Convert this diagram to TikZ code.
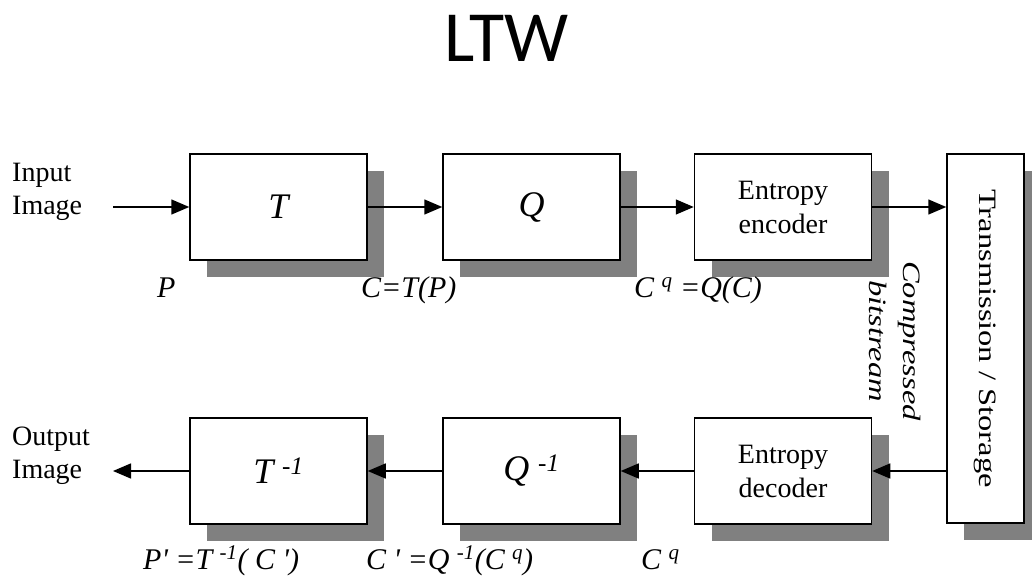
\documentclass[tikz,border=0pt]{standalone}
\usepackage{fontspec}
\setmainfont{Liberation Serif}
\newfontfamily\titlefont{Carlito}
\usetikzlibrary{arrows.meta,shadows}
\definecolor{shgray}{HTML}{808080}
\newcommand{\supr}[1]{\textsuperscript{\hspace{0.35em}#1}}
\begin{document}
\begin{tikzpicture}[x=1pt,y=-1pt,
  blk/.style={draw, line width=1.5pt, fill=white, minimum width=177pt, minimum height=106pt, inner sep=0pt,
    drop shadow={shadow xshift=17pt, shadow yshift=-17pt, fill=shgray, opacity=1, draw=none}},
  conn/.style={line width=1.5pt, -{Triangle[length=18pt,width=15pt]}},
  lbl/.style={font=\fontsize{30}{32}\selectfont\itshape, inner sep=0pt, anchor=base west},
  sym/.style={font=\fontsize{36}{38}\selectfont\itshape},
  wrd/.style={font=\fontsize{28}{34}\selectfont, align=center},
  side/.style={font=\fontsize{28}{33}\selectfont, align=left, inner sep=0pt, anchor=west},
]
\useasboundingbox (0,0) rectangle (1032,575);
\node[font=\fontsize{72}{74}\selectfont\titlefont, anchor=base, inner sep=0pt] (title) at (507,62) {LTW};

% top row
\node[blk, sym] (T) at (278.5,207) {T};
\node[blk, sym] (Q) at (531.5,207) {Q};
\node[blk, wrd] (E) at (783,207) {Entropy\\encoder};
\node[blk, minimum width=77pt, minimum height=369pt, font=\fontsize{25}{30}\selectfont] (TS) at (985.5,338.5)
  {\rotatebox{-90}{\scalebox{1.3}[1]{Transmission / Storage}}};

% bottom row
\node[blk, sym] (Ti) at (278.5,471) {T\supr{-\textit{1}}};
\node[blk, sym] (Qi) at (531.5,471) {Q\supr{-\textit{1}}};
\node[blk, wrd] (D) at (783,471) {Entropy\\decoder};

% side labels
\node[side] (in) at (12,192) {Input\\Image};
\node[side] (out) at (12,456) {Output\\Image};
\coordinate (inp) at (113,207);
\coordinate (outp) at (113,471);

% connectors
\draw[conn] (inp) -- (T.west);
\draw[conn] (T.east) -- (Q.west);
\draw[conn] (Q.east) -- (E.west);
\draw[conn] (E.east) -- (E.east -| TS.west);
\draw[conn] (TS.west |- D.east) -- (D.east);
\draw[conn] (D.west) -- (Qi.east);
\draw[conn] (Qi.west) -- (Ti.east);
\draw[conn] (Ti.west) -- (outp);

% signal labels
\node[lbl] (lP) at (157,297) {P};
\node[lbl] (lC) at (361,297) {C=T(P)};
\node[lbl] (lCq) at (634,297) {C\supr{q} =Q(C)};
\node[lbl] (lPp) at (143,569) {P\textquotesingle{} =T\supr{-1}( C \textquotesingle{})};
\node[lbl] (lCp) at (366,569) {C \textquotesingle{} =Q\supr{-1}(C\supr{q})};
\node[lbl] (lCq2) at (641,569) {C\supr{q}};

\node[font=\fontsize{25}{34}\selectfont\itshape, inner sep=0pt] (cb) at (893,341)
  {\rotatebox{-90}{\scalebox{1.3}[1]{\begin{tabular}{@{}c@{}}Compressed\\bitstream\end{tabular}}}};
\end{tikzpicture}
\end{document}
